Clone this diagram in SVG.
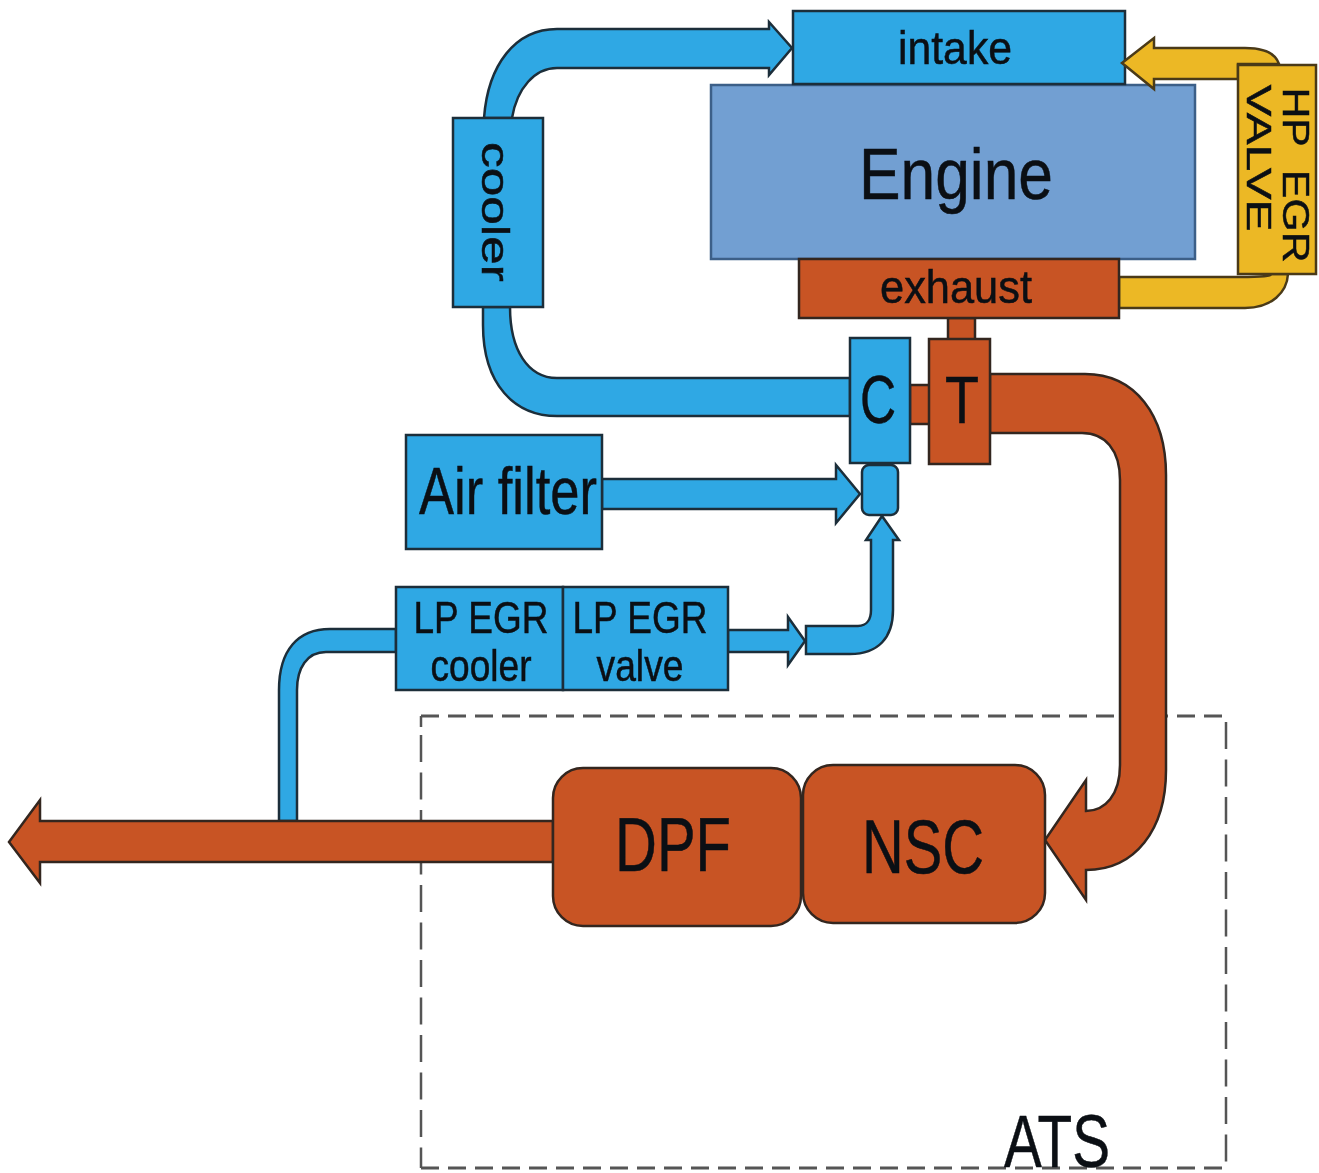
<svg xmlns="http://www.w3.org/2000/svg" width="1319" height="1173" viewBox="0 0 1319 1173">
<style>
text{font-family:"Liberation Sans",Arial,sans-serif;fill:#0b0f14;stroke:#0b0f14;stroke-width:.5;text-anchor:middle}
.b{fill:#2fa8e4;stroke:#1c2e3a;stroke-width:2.5;stroke-linejoin:miter}
.r{fill:#c85424;stroke:#33261f;stroke-width:2.5}
.y{fill:#ecb825;stroke:#4a3a18;stroke-width:2.5}
.e{fill:#729fd2;stroke:#3c5f88;stroke-width:2.5}
.dh{fill:none;stroke:#555;stroke-width:3;stroke-dasharray:18 9}
.dv{fill:none;stroke:#555;stroke-width:2.5;stroke-dasharray:27 10.5}
</style>
<defs><filter id="soft" filterUnits="userSpaceOnUse" x="0" y="0" width="1319" height="1173" color-interpolation-filters="sRGB"><feGaussianBlur stdDeviation="0.7"/></filter></defs>
<rect width="1319" height="1173" fill="#fff"/>
<g filter="url(#soft)">
<g id="engine"><rect class="e" x="711" y="85" width="484" height="174"/><text x="956" y="199" font-size="72" textLength="194" lengthAdjust="spacingAndGlyphs">Engine</text></g>
<g id="intake"><rect class="b" x="793" y="11" width="332" height="73"/><text x="955" y="64" font-size="46" textLength="114" lengthAdjust="spacingAndGlyphs">intake</text></g>
<g id="connectors">
<path class="dh" d="M421 716H1224"/>
<path class="dv" d="M1226 722V1166"/>
<path class="dv" d="M421 735V1168"/>
<path class="dv" d="M421 716V727"/>
<path class="dh" d="M421 1168H1226"/>
<path class="b" d="M484 118C488 65 515 29 557 29H769V22L792 48L769 75V68H557C535 68 517 88 512 118Z"/>
<path class="b" d="M483 307V325C483 385 515 416 557 416H850V378H557C528 378 510 350 510 307Z"/>
<path class="r" d="M910 385H930V424H910Z"/>
<path class="r" d="M948 318H975V340H948Z"/>
<path class="r" d="M990 374H1085C1135 374 1166 415 1166 475V770C1166 830 1135 870 1086 870V900L1045 840L1086 780V811C1105 811 1120 795 1120 765V480C1120 450 1105 433 1082 433H990Z"/>
<path class="y" d="M1119 277H1240C1262 277 1272 276 1271 274H1288C1287 292 1272 308 1245 308H1119Z"/>
<path class="y" d="M1238 79H1154V89L1122 63L1154 38V48H1245C1262 48 1275 52 1279 64H1238Z"/>
<path class="b" d="M602 479H836V465L860 494L836 523V509H602Z"/>
<path class="b" d="M728 630H788V617L805 641L788 665V652H728Z"/>
<path class="b" d="M806 626H858C867 626 871 619 871 610V540H866L882 516L899 540H893V610C893 638 878 654 850 654H806Z"/>
<path class="b" d="M279 821V690C279 650 298 629 330 629H396V652H326C307 652 297 668 297 690V821Z"/>
<path class="r" d="M553 821H40V800L9 842L40 883V862H553Z"/>
</g>
<g id="exhaust"><rect class="r" x="799" y="259" width="320" height="59"/><text x="956" y="303" font-size="46" textLength="152" lengthAdjust="spacingAndGlyphs">exhaust</text></g>
<g id="hp-egr-valve"><rect class="y" x="1238" y="65" width="78" height="209"/><text transform="translate(1283 175) rotate(90)" font-size="37" textLength="175" lengthAdjust="spacingAndGlyphs" xml:space="preserve">HP  EGR</text><text transform="translate(1247 158) rotate(90)" font-size="35" textLength="147" lengthAdjust="spacingAndGlyphs">VALVE</text></g>
<g id="cooler"><rect class="b" x="453" y="118" width="90" height="189"/><text transform="translate(482 212) rotate(90)" font-size="39" textLength="140" lengthAdjust="spacingAndGlyphs">cooler</text></g>
<g id="compressor"><rect class="b" x="850" y="338" width="60" height="125"/><text x="878" y="423" font-size="68" textLength="36" lengthAdjust="spacingAndGlyphs">C</text></g>
<g id="turbine"><rect class="r" x="929" y="339" width="61" height="125"/><text x="962" y="423" font-size="66" textLength="34" lengthAdjust="spacingAndGlyphs">T</text></g>
<g id="junction"><rect class="b" x="862" y="465" width="36" height="50" rx="7"/></g>
<g id="air-filter"><rect class="b" x="406" y="435" width="196" height="114"/><text x="508" y="514" font-size="66" textLength="178" lengthAdjust="spacingAndGlyphs">Air filter</text></g>
<g id="lp-egr-cooler"><rect class="b" x="396" y="587" width="167" height="103"/><text x="481" y="633" font-size="44" textLength="135" lengthAdjust="spacingAndGlyphs">LP EGR</text><text x="481" y="681" font-size="44" textLength="101" lengthAdjust="spacingAndGlyphs">cooler</text></g>
<g id="lp-egr-valve"><rect class="b" x="563" y="587" width="165" height="103"/><text x="640" y="633" font-size="44" textLength="135" lengthAdjust="spacingAndGlyphs">LP EGR</text><text x="640" y="681" font-size="44" textLength="87" lengthAdjust="spacingAndGlyphs">valve</text></g>
<g id="dpf"><rect class="r" x="553" y="768" width="248" height="158" rx="30"/><text x="673" y="871" font-size="76" textLength="116" lengthAdjust="spacingAndGlyphs">DPF</text></g>
<g id="nsc"><rect class="r" x="803" y="765" width="242" height="158" rx="30"/><text x="923" y="873" font-size="76" textLength="122" lengthAdjust="spacingAndGlyphs">NSC</text></g>
<g id="ats"><text x="1057" y="1167" font-size="74" textLength="106" lengthAdjust="spacingAndGlyphs">ATS</text></g>
</g>
</svg>
